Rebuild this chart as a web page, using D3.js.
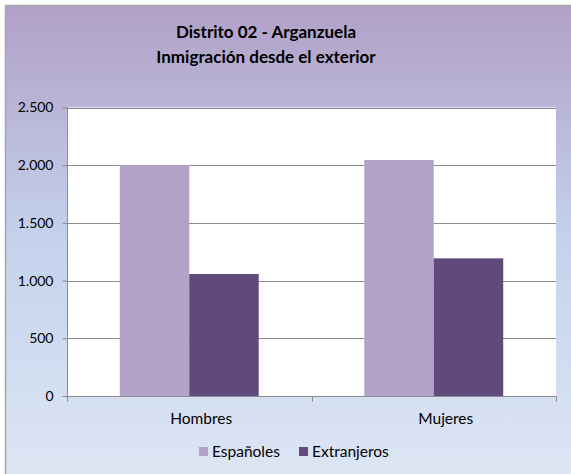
<!DOCTYPE html>
<html>
<head>
<meta charset="utf-8">
<script src="https://cdn.jsdelivr.net/npm/d3@7"></script>
<style>
  body { margin: 0; background: #fff; }
  svg text { font-family: Lato, "Open Sans", sans-serif; fill: #000; }
</style>
</head>
<body>
<div id="graph"></div>
<script>
var categories = ['Hombres', 'Mujeres']
var series = ['Españoles', 'Extranjeros']
var espanoles = [2000, 2045]
var extranjeros = [1057, 1193]
var yTicks = [0, 500, 1000, 1500, 2000, 2500]
var titleLines = ['Distrito 02 - Arganzuela', 'Inmigración desde el exterior']

var colors = {'Españoles': '#b3a2c7', 'Extranjeros': '#604a7b'}
var rows = categories.map((c, i) => ({cat: c, vals: [
  {key: 'Españoles', v: espanoles[i]},
  {key: 'Extranjeros', v: extranjeros[i]}
]}))

var width = 571, height = 474
var svg = d3.select('#graph').append('svg')
  .attr('width', width).attr('height', height)

// background gradient, purple to light blue
var grad = svg.append('defs').append('linearGradient')
  .attr('id', 'bg').attr('x1', 0).attr('y1', 0).attr('x2', 0).attr('y2', 1)
grad.append('stop').attr('offset', '0%').attr('stop-color', '#b1a0c7')
grad.append('stop').attr('offset', '50%').attr('stop-color', '#c4d2ec')
grad.append('stop').attr('offset', '100%').attr('stop-color', '#dde6f4')

svg.append('rect').attr('x', 5).attr('y', 5)
  .attr('width', width).attr('height', height)
  .attr('fill', 'url(#bg)')
svg.append('path').attr('d', `M5.5 ${height} V5.5 H${width}`)
  .attr('fill', 'none').attr('stroke', '#a6a6a6').attr('stroke-width', 1.5)

svg.selectAll('text.title').data(titleLines).enter().append('text')
  .attr('class', 'title')
  .attr('x', 266).attr('y', (d, i) => 37.5 + i * 25)
  .attr('text-anchor', 'middle')
  .style('font-weight', 'bold').style('font-size', '17px')
  .text(d => d)

var plot = {left: 67, right: 556, top: 107.5, bottom: 396}

var y = d3.scaleLinear().domain([0, 2500]).range([plot.bottom, plot.top])
var x0 = d3.scaleBand().domain(categories).range([plot.left, plot.right])
var x1 = d3.scaleBand().domain(series).range([0, x0.bandwidth()])
  .paddingInner(0).paddingOuter(0.76)

svg.append('rect')
  .attr('x', plot.left).attr('y', plot.top)
  .attr('width', plot.right - plot.left).attr('height', plot.bottom - plot.top)
  .attr('fill', '#fff')

// gridlines
svg.append('g').selectAll('line').data(yTicks.filter(d => d > 0)).enter()
  .append('line')
  .attr('x1', plot.left).attr('x2', plot.right)
  .attr('y1', d => Math.round(y(d)) + 0.5).attr('y2', d => Math.round(y(d)) + 0.5)
  .attr('stroke', '#8c8c8c').attr('stroke-width', 1)

// bars
svg.append('g').selectAll('g').data(rows).enter().append('g')
  .attr('transform', d => `translate(${x0(d.cat)},0)`)
  .selectAll('rect').data(d => d.vals).enter().append('rect')
  .attr('x', d => x1(d.key)).attr('width', x1.bandwidth())
  .attr('y', d => y(d.v)).attr('height', d => y(0) - y(d.v))
  .attr('fill', d => colors[d.key])

// y axis
var yAxis = svg.append('g')
  .attr('transform', `translate(${plot.left + 0.5},0)`)
  .call(d3.axisLeft(y).tickValues(yTicks).tickSize(5).tickPadding(9)
    .tickFormat(d => d3.format(',')(d).replace(/,/g, '.')))
yAxis.selectAll('text').style('font-size', '14px')
yAxis.selectAll('line, path').attr('stroke', '#8c8c8c')
yAxis.select('.domain').attr('d', `M0,${plot.top}V${plot.bottom}`)

// x axis
var xAxis = svg.append('g')
  .attr('transform', `translate(0,${plot.bottom + 0.5})`)
xAxis.append('line').attr('x1', plot.left).attr('x2', plot.right)
  .attr('stroke', '#8c8c8c')
xAxis.selectAll('line.tick').data([plot.left, x0(categories[1]), plot.right]).enter()
  .append('line').attr('class', 'tick')
  .attr('x1', d => Math.round(d) + 0.5).attr('x2', d => Math.round(d) + 0.5)
  .attr('y1', 0).attr('y2', 5).attr('stroke', '#8c8c8c')
xAxis.selectAll('text').data(categories).enter().append('text')
  .attr('x', d => x0(d) + x0.bandwidth() / 2 + 12).attr('y', 27)
  .attr('text-anchor', 'middle').style('font-size', '15.5px')
  .text(d => d)

// legend
var legendX = [199, 299]
var legend = svg.append('g').selectAll('g').data(series).enter().append('g')
  .attr('transform', (d, i) => `translate(${legendX[i]},447)`)
legend.append('rect').attr('width', 9).attr('height', 9)
  .attr('fill', d => colors[d])
legend.append('text').attr('x', 13).attr('y', 10)
  .style('font-size', '15.5px').text(d => d)
</script>
</body>
</html>
